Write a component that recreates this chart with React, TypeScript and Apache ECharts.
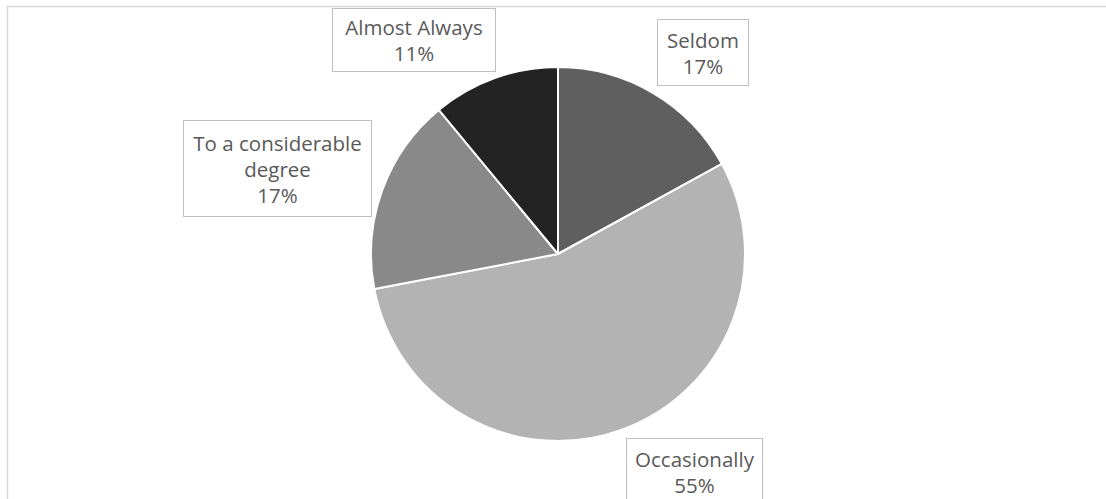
import React, { useEffect, useRef } from "react";
import * as echarts from "echarts";

const categories = ["Seldom", "Occasionally", "To a considerable\ndegree", "Almost Always"];
const values = [17, 55, 17, 11];
const colors = ["#5f5f5f", "#b3b3b3", "#898989", "#232323"];
// label box centres and sizes (layout, not data)
const labelBoxes = [
  { x: 703, y: 52.5, w: 92, h: 67 },
  { x: 694.5, y: 471.5, w: 137, h: 67 },
  { x: 277.5, y: 168.5, w: 189, h: 97 },
  { x: 414, y: 40, w: 164, h: 64 },
];

export default function App() {
  const ref = useRef<HTMLDivElement>(null);
  useEffect(() => {
    const chart = echarts.init(ref.current!, null, { renderer: "svg" });
    chart.setOption({
      animation: false,
      graphic: [
        {
          type: "rect",
          shape: { x: 7.5, y: 6.5, width: 1200, height: 600 },
          style: { fill: "none", stroke: "#d9d9d9", lineWidth: 1.5 },
          silent: true,
          z: -10,
        },
      ],
      series: [
        {
          type: "pie",
          center: [558, 254],
          radius: [0, 187],
          startAngle: 90,
          clockwise: true,
          percentPrecision: 0,
          itemStyle: { borderColor: "#ffffff", borderWidth: 2 },
          labelLine: { show: false },
          data: categories.map((c, i) => ({
            name: c,
            value: values[i],
            itemStyle: { color: colors[i] },
            label: {
              width: labelBoxes[i].w - 2,
              height: labelBoxes[i].h - 2,
            },
          })),
          label: {
            show: true,
            position: "outside",
            formatter: "{b}\n{d}%",
            fontFamily: "'Open Sans', sans-serif",
            fontSize: 20.5,
            lineHeight: 26,
            color: "#595959",
            align: "center",
            verticalAlign: "middle",
            backgroundColor: "#ffffff",
            borderColor: "#bfbfbf",
            borderWidth: 1,
          },
          labelLayout: (params: any) => {
            const b = labelBoxes[params.dataIndex];
            return { x: b.x, y: b.y, align: "center", verticalAlign: "middle" };
          },
        },
      ],
    });
    return () => chart.dispose();
  }, []);
  return (
    <div
      ref={ref}
      style={{ position: "absolute", left: 0, top: 0, width: 1106, height: 499, background: "#fff" }}
    />
  );
}
